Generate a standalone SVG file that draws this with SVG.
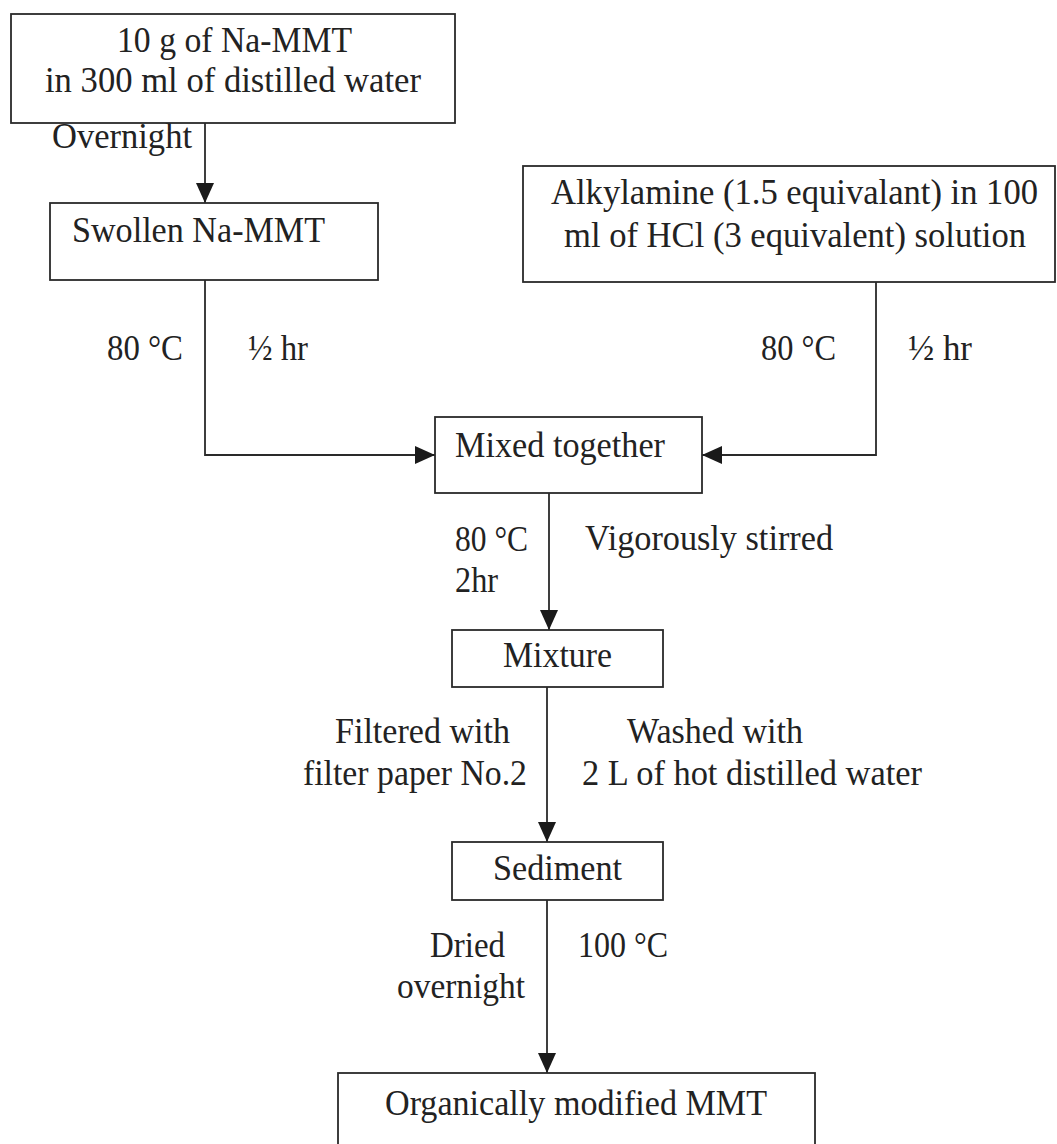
<svg xmlns="http://www.w3.org/2000/svg" width="1057" height="1144" viewBox="0 0 1057 1144">
<style>
  .box { fill: #ffffff; stroke: #2a2a2a; stroke-width: 1.8; }
  .con { fill: none; stroke: #2a2a2a; stroke-width: 1.8; }
  text { font-family: "Liberation Serif", "Times New Roman", serif; font-size: 35px; fill: #222222; }
</style>
<defs>
  <marker id="arr" markerUnits="userSpaceOnUse" markerWidth="20" markerHeight="18" refX="20" refY="9" orient="auto">
    <path d="M0,0 L20,9 L0,18 z" fill="#1a1a1a"/>
  </marker>
</defs>
<rect x="0" y="0" width="1057" height="1144" fill="#ffffff"/>

<g id="connectors">
  <line class="con" x1="205" y1="123" x2="205" y2="203" marker-end="url(#arr)"/>
  <polyline class="con" points="205,280 205,455 435,455" marker-end="url(#arr)"/>
  <polyline class="con" points="876,282 876,455 702,455" marker-end="url(#arr)"/>
  <line class="con" x1="549" y1="493" x2="549" y2="630" marker-end="url(#arr)"/>
  <line class="con" x1="547" y1="687" x2="547" y2="842" marker-end="url(#arr)"/>
  <line class="con" x1="547" y1="900" x2="547" y2="1073" marker-end="url(#arr)"/>
</g>

<g id="labels">
  <text x="52" y="148" textLength="140" lengthAdjust="spacingAndGlyphs">Overnight</text>
  <text x="107" y="360" textLength="76" lengthAdjust="spacingAndGlyphs">80 °C</text>
  <text x="248" y="360" textLength="60" lengthAdjust="spacingAndGlyphs">½ hr</text>
  <text x="761" y="360" textLength="75" lengthAdjust="spacingAndGlyphs">80 °C</text>
  <text x="908" y="360" textLength="64" lengthAdjust="spacingAndGlyphs">½ hr</text>
  <text x="455" y="551" textLength="73" lengthAdjust="spacingAndGlyphs">80 °C</text>
  <text x="455" y="592" textLength="43" lengthAdjust="spacingAndGlyphs">2hr</text>
  <text x="585" y="550" textLength="248" lengthAdjust="spacingAndGlyphs">Vigorously stirred</text>
  <text x="335" y="743" textLength="175" lengthAdjust="spacingAndGlyphs">Filtered with</text>
  <text x="303" y="785" textLength="224" lengthAdjust="spacingAndGlyphs">filter paper No.2</text>
  <text x="627" y="743" textLength="176" lengthAdjust="spacingAndGlyphs">Washed with</text>
  <text x="582" y="785" textLength="340" lengthAdjust="spacingAndGlyphs">2 L of hot distilled water</text>
  <text x="430" y="957" textLength="75" lengthAdjust="spacingAndGlyphs">Dried</text>
  <text x="397" y="998" textLength="128" lengthAdjust="spacingAndGlyphs">overnight</text>
  <text x="578" y="957" textLength="90" lengthAdjust="spacingAndGlyphs">100 °C</text>
</g>

<g id="n-start">
  <rect class="box" x="11" y="14" width="444" height="109"/>
  <text x="117" y="52" textLength="235" lengthAdjust="spacingAndGlyphs">10 g of Na-MMT</text>
  <text x="45" y="92" textLength="376" lengthAdjust="spacingAndGlyphs">in 300 ml of distilled water</text>
</g>

<g id="n-swollen">
  <rect class="box" x="50" y="203" width="328" height="77"/>
  <text x="72" y="242" textLength="253" lengthAdjust="spacingAndGlyphs">Swollen Na-MMT</text>
</g>

<g id="n-alkylamine">
  <rect class="box" x="523" y="166" width="532" height="116"/>
  <text x="551" y="204" textLength="487" lengthAdjust="spacingAndGlyphs">Alkylamine (1.5 equivalant) in 100</text>
  <text x="564" y="247" textLength="462" lengthAdjust="spacingAndGlyphs">ml of HCl (3 equivalent) solution</text>
</g>

<g id="n-mixed">
  <rect class="box" x="435" y="417" width="267" height="76"/>
  <text x="455" y="457" textLength="210" lengthAdjust="spacingAndGlyphs">Mixed together</text>
</g>

<g id="n-mixture">
  <rect class="box" x="452" y="630" width="211" height="57"/>
  <text x="503" y="667" textLength="109" lengthAdjust="spacingAndGlyphs">Mixture</text>
</g>

<g id="n-sediment">
  <rect class="box" x="452" y="842" width="211" height="58"/>
  <text x="493" y="880" textLength="129" lengthAdjust="spacingAndGlyphs">Sediment</text>
</g>

<g id="n-final">
  <rect class="box" x="338" y="1073" width="477" height="90"/>
  <text x="385" y="1115" textLength="382" lengthAdjust="spacingAndGlyphs">Organically modified MMT</text>
</g>
</svg>
